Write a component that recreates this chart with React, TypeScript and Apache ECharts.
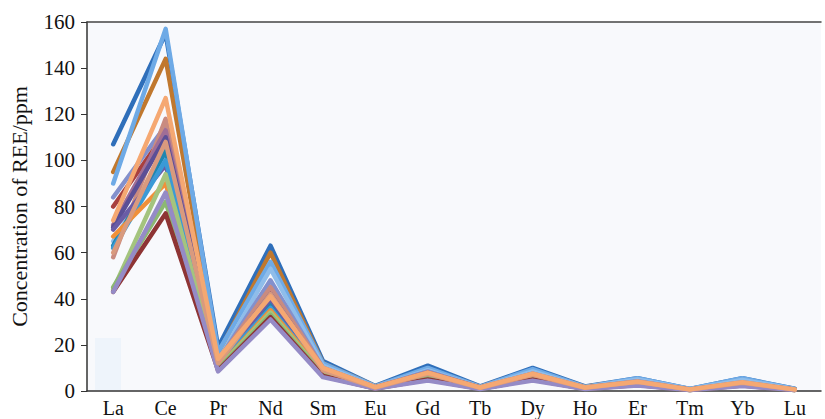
import React, { useEffect, useRef } from "react";
import * as echarts from "echarts";

const elements = ["La", "Ce", "Pr", "Nd", "Sm", "Eu", "Gd", "Tb", "Dy", "Ho", "Er", "Tm", "Yb", "Lu"];
const yTicks = [0, 20, 40, 60, 80, 100, 120, 140, 160];

const s01 = [107, 155, 19, 63, 13, 2.2, 11, 2, 10, 2, 5.5, 0.9, 5.5, 1];
const s02 = [95, 144, 16, 60, 12, 2, 9.5, 1.8, 9, 1.8, 5, 0.8, 4.5, 0.8];
const s03 = [90, 157, 17, 56, 12, 2, 10, 1.8, 9.5, 1.8, 5.5, 0.9, 5.5, 0.9];
const s04 = [65, 101, 13, 53, 11, 1.8, 9, 1.6, 8.5, 1.6, 5, 0.8, 4.8, 0.8];
const s05 = [84, 115, 13, 48, 10, 1.7, 8.5, 1.5, 7.5, 1.5, 4.2, 0.7, 3.8, 0.7];
const s06 = [80, 112, 12, 44, 9.5, 1.6, 8, 1.4, 7, 1.4, 3.8, 0.6, 3.5, 0.6];
const s07 = [58, 118, 13, 45, 10, 1.6, 8, 1.5, 7.5, 1.5, 4, 0.7, 3.5, 0.6];
const s08 = [72, 113, 12, 40, 9, 1.5, 7.5, 1.3, 7, 1.3, 3.6, 0.6, 3.3, 0.6];
const s09 = [71, 110, 12, 42, 9, 1.5, 7.5, 1.4, 7, 1.4, 3.8, 0.6, 3.4, 0.6];
const s10 = [63, 104, 11, 38, 8.5, 1.5, 7, 1.3, 6.5, 1.3, 3.5, 0.6, 3.2, 0.6];
const s11 = [70, 98, 11, 40, 8.5, 1.4, 7, 1.3, 6.5, 1.3, 3.5, 0.6, 3.2, 0.5];
const s12 = [62, 100, 11, 36, 8, 1.4, 6.5, 1.2, 6, 1.2, 3.2, 0.5, 3, 0.5];
const s13 = [67, 90, 10, 35, 8, 1.4, 6.5, 1.2, 6, 1.2, 3.2, 0.5, 3, 0.5];
const s14 = [44, 94, 10, 34, 7.5, 1.3, 6, 1.1, 5.5, 1.1, 3, 0.5, 2.8, 0.5];
const s15 = [45, 82, 9.5, 33, 7, 1.2, 5.5, 1, 5, 1, 2.8, 0.4, 2.6, 0.4];
const s16 = [43, 77, 9, 32, 6.5, 1.1, 5, 1, 5, 1, 2.6, 0.4, 2.4, 0.4];
const s17 = [43, 86, 8.5, 31, 6, 1.1, 4.5, 0.9, 4.5, 0.9, 2.4, 0.4, 2.2, 0.4];
const s18 = [60, 108, 12, 42, 9, 1.5, 7.5, 1.4, 7, 1.4, 4, 0.6, 3.6, 0.6];
const s19 = [74, 127, 14, 41, 10, 1.7, 8, 1.5, 7.5, 1.5, 4, 0.7, 3.8, 0.7];

const seriesList = [
  { name: "S01", data: s01, color: "#2f6fba" },
  { name: "S02", data: s02, color: "#c0782e" },
  { name: "S03", data: s03, color: "#6eaae6" },
  { name: "S04", data: s04, color: "#8fbdea" },
  { name: "S05", data: s05, color: "#8390cc" },
  { name: "S06", data: s06, color: "#a8403e" },
  { name: "S07", data: s07, color: "#c98b80" },
  { name: "S08", data: s08, color: "#a06e96" },
  { name: "S09", data: s09, color: "#5b4f96" },
  { name: "S10", data: s10, color: "#1f86b0" },
  { name: "S11", data: s11, color: "#6a5ca6" },
  { name: "S12", data: s12, color: "#3a9ad6" },
  { name: "S13", data: s13, color: "#f0903a" },
  { name: "S14", data: s14, color: "#a4c47e" },
  { name: "S15", data: s15, color: "#8cb872" },
  { name: "S16", data: s16, color: "#8e3434" },
  { name: "S17", data: s17, color: "#958bc6" },
  { name: "S18", data: s18, color: "#d99a7e" },
  { name: "S19", data: s19, color: "#f5a872" },
];

const serif = "Liberation Serif";

export default function App() {
  const ref = useRef<HTMLDivElement>(null);
  useEffect(() => {
    if (!ref.current) return;
    const chart = echarts.init(ref.current, null, { renderer: "svg" });
    chart.setOption({
      animation: false,
      backgroundColor: "#ffffff",
      textStyle: { fontFamily: serif },
      grid: {
        left: 76,
        right: 4,
        top: 22,
        bottom: 28,
        show: true,
        backgroundColor: "#f8f9fc",
        borderWidth: 0,
      },
      graphic: [
        {
          type: "rect",
          shape: { x: 95, y: 338, width: 26, height: 52 },
          style: { fill: "#eef4fb" },
          z: 0,
        },
      ],
      xAxis: [
        {
          type: "category",
          data: elements,
          boundaryGap: true,
          axisLine: { show: true, lineStyle: { color: "#333", width: 1.5 } },
          axisTick: { show: false },
          axisLabel: { fontFamily: serif, fontSize: 20, color: "#111", margin: 7 },
          splitLine: { show: false },
        },
        {
          type: "category",
          data: elements,
          position: "top",
          axisLine: { show: true, lineStyle: { color: "#444", width: 1.5 } },
          axisTick: { show: false },
          axisLabel: { show: false },
        },
      ],
      yAxis: {
        type: "value",
        min: 0,
        max: 160,
        interval: 20,
        name: "Concentration of REE/ppm",
        nameLocation: "middle",
        nameRotate: 90,
        nameGap: 57,
        nameTextStyle: { fontFamily: serif, fontSize: 22, color: "#111" },
        axisLine: { show: true, lineStyle: { color: "#333", width: 1.5 } },
        axisTick: { show: true, inside: false, length: 6, lineStyle: { color: "#333" } },
        axisLabel: {
          fontFamily: serif,
          fontSize: 21,
          color: "#111",
          margin: 12,
          formatter: (v: number) => (yTicks.includes(v) ? String(v) : ""),
        },
        splitLine: { show: false },
      },
      series: seriesList.map((s) => ({
        name: s.name,
        type: "line",
        data: s.data,
        xAxisIndex: 0,
        showSymbol: false,
        symbol: "none",
        lineStyle: { width: 4.5, color: s.color, join: "round", cap: "round" },
        itemStyle: { color: s.color },
      })),
    });
    return () => chart.dispose();
  }, []);
  return (
    <div
      ref={ref}
      style={{ position: "fixed", left: 0, top: 0, width: 825, height: 419 }}
    />
  );
}
